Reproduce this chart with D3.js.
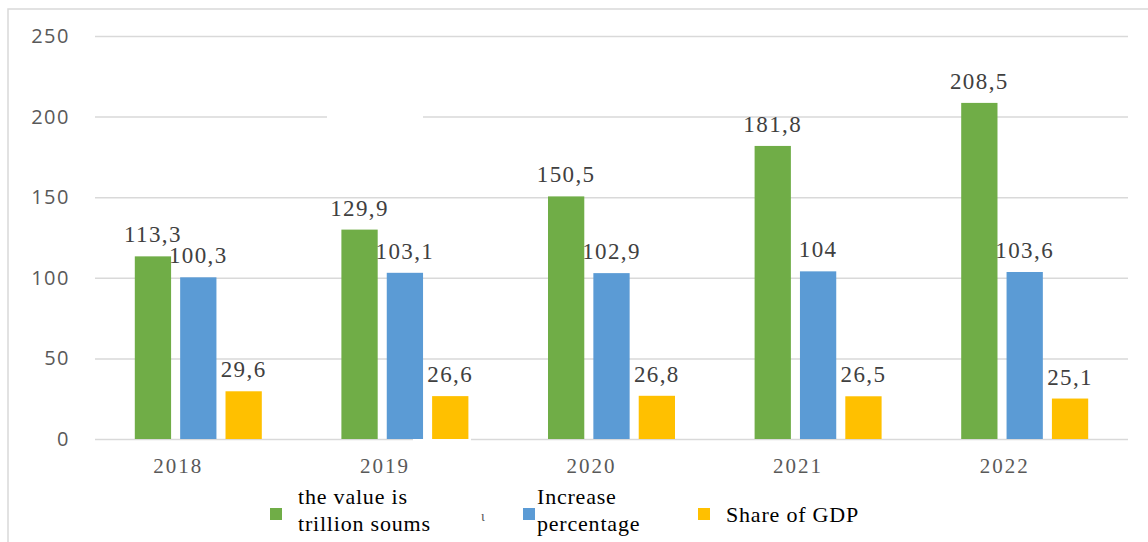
<!DOCTYPE html>
<meta charset="utf-8">
<style>
body { margin: 0; background: #fff; }
.grid line { stroke: #d9d9d9; stroke-width: 1.5px; }
.grid text { font: 20px "Open Sans", sans-serif; fill: #595959; letter-spacing: 1.5px; }
.xaxis text { font: 21px "Liberation Serif", serif; fill: #595959; letter-spacing: 2px; }
.vlabel { font: 23px "Liberation Serif", serif; fill: #404040; letter-spacing: 1.4px; }
.legend text { font: 22px "Liberation Serif", serif; fill: #000; letter-spacing: 0.8px; }
</style>
<svg width="1148" height="542"></svg>
<script src="https://d3js.org/d3.v7.min.js"></script>
<script>

var years = ["2018", "2019", "2020", "2021", "2022"];
var trillion = [113.3, 129.9, 150.5, 181.8, 208.5];
var increase = [100.3, 103.1, 102.9, 104, 103.6];
var gdpShare = [29.6, 26.6, 26.8, 26.5, 25.1];
var yTicks = [0, 50, 100, 150, 200, 250];
var seriesNames = ["the value is trillion soums", "Increase percentage", "Share of GDP"];
var legendLines = [["the value is", "trillion soums"], ["Increase", "percentage"], ["Share of GDP"]];
var colors = ["#70AD47", "#5B9BD5", "#FFC000"];

var svg = d3.select("svg");

// outer frame (only top and left edges show in the picture)
svg.append("path")
    .attr("d", "M8,542V9H1148")
    .attr("fill", "none")
    .attr("stroke", "#d9d9d9")
    .attr("stroke-width", 1.5);

var x = d3.scaleBand().domain(years).range([95, 1128]);
var x1 = d3.scaleBand().domain(seriesNames).range([-63.5, 63.5]).paddingInner(0.2);
var y = d3.scaleLinear().domain([0, 250]).range([439, 36]);

var grid = svg.append("g")
    .attr("class", "grid")
    .attr("transform", "translate(95,0)")
    .call(d3.axisLeft(y).tickValues(yTicks).tickSize(-(1128 - 95)).tickPadding(25));
grid.select(".domain").remove();

// breaks in the gridlines seen in the original scan
svg.append("rect").attr("x", 327).attr("y", y(200) - 3).attr("width", 96).attr("height", 6).attr("fill", "#fff");
svg.append("rect").attr("x", 413).attr("y", y(0) - 3).attr("width", 58).attr("height", 6).attr("fill", "#fff");

var xaxis = svg.append("g")
    .attr("class", "xaxis")
    .attr("transform", "translate(0," + y(0) + ")")
    .call(d3.axisBottom(x).tickSize(0).tickPadding(19));
xaxis.select(".domain").remove();
xaxis.selectAll("text").attr("dx", -20);

var series = [trillion, increase, gdpShare];

series.forEach(function(vals, s) {
  var g = svg.append("g");
  g.selectAll("rect")
    .data(vals)
    .enter().append("rect")
      .attr("x", function(d, i) { return x(years[i]) + x.bandwidth() / 2 + x1(seriesNames[s]); })
      .attr("y", function(d) { return y(d); })
      .attr("width", x1.bandwidth())
      .attr("height", function(d) { return y(0) - y(d); })
      .attr("fill", colors[s]);

  g.selectAll("text")
    .data(vals)
    .enter().append("text")
      .attr("class", "vlabel")
      .attr("text-anchor", "middle")
      .attr("x", function(d, i) { return x(years[i]) + x.bandwidth() / 2 + x1(seriesNames[s]) + x1.bandwidth() / 2; })
      .attr("y", function(d) { return y(d) - 14; })
      .text(function(d) { return String(d).replace(".", ","); });
});

// legend
var legendX = [270, 523, 698];
var legend = svg.append("g").attr("class", "legend");
legendLines.forEach(function(lines, s) {
  legend.append("rect")
      .attr("x", legendX[s])
      .attr("y", 508)
      .attr("width", 12)
      .attr("height", 12)
      .attr("fill", colors[s]);
  var t = legend.append("text")
      .attr("x", legendX[s] + (s == 1 ? 14 : 28))
      .attr("y", lines.length > 1 ? 504 : 522);
  lines.forEach(function(line, k) {
    t.append("tspan")
        .attr("x", legendX[s] + (s == 1 ? 14 : 28))
        .attr("dy", k == 0 ? 0 : 27)
        .text(line);
  });
});

// stray mark from the scan
svg.append("text")
    .attr("x", 481).attr("y", 521)
    .attr("font-family", "Liberation Serif")
    .attr("font-size", 14)
    .attr("fill", "#555")
    .text("ι");

</script>
